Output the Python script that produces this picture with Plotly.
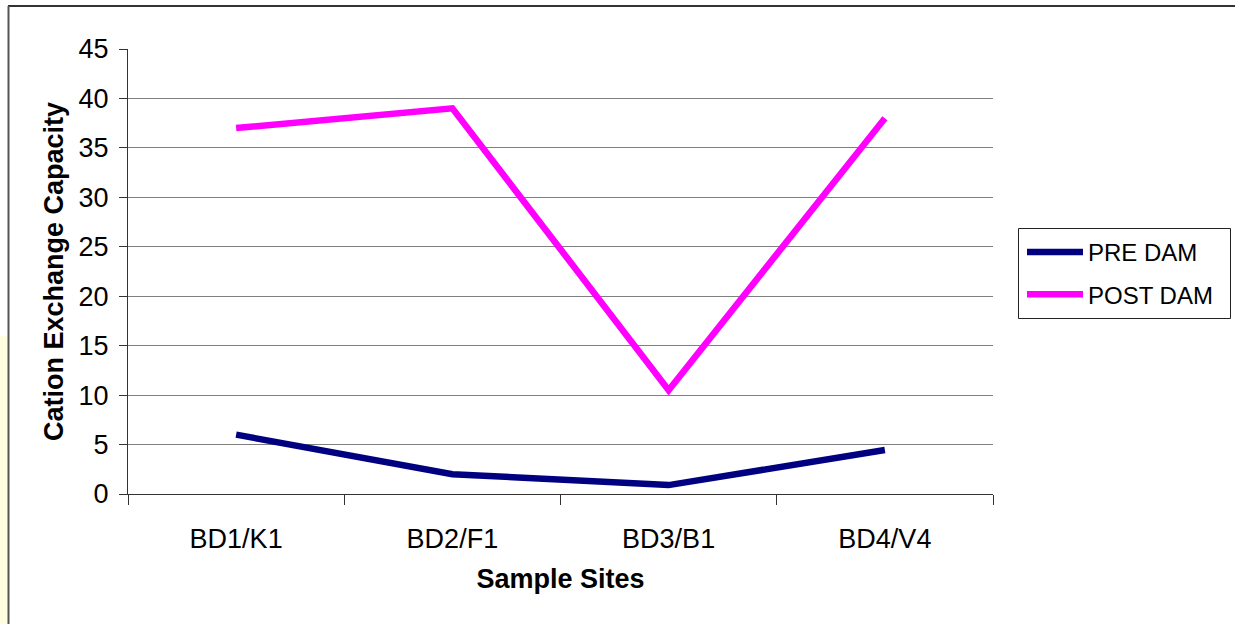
import plotly.graph_objects as go

sites = ["BD1/K1", "BD2/F1", "BD3/B1", "BD4/V4"]
pre_dam = [6.0, 2.0, 0.9, 4.45]
post_dam = [37.0, 39.0, 10.5, 38.0]

FONT = "Liberation Sans, Arial, sans-serif"

L, R, T, B = 128, 993, 49, 494
W, H = 1235, 624

def px(x):
    return (x - L) / (R - L)

def py(y):
    return (B - y) / (B - T)

fig = go.Figure()
fig.add_trace(go.Scatter(x=sites, y=pre_dam, mode="lines", name="PRE DAM", legendgroup="a",
                         line=dict(color="#000080", width=6.5)))
fig.add_trace(go.Scatter(x=sites, y=post_dam, mode="lines", name="POST DAM", legendgroup="b",
                         line=dict(color="#FF00FF", width=6.5)))

fig.update_layout(
    width=W, height=H,
    margin=dict(l=L, r=W - R, t=T, b=H - B),
    paper_bgcolor="white", plot_bgcolor="white",
    font=dict(family=FONT, size=27, color="black"),
    showlegend=True,
    legend=dict(x=px(1022), y=py(230), xanchor="left", yanchor="top",
                borderwidth=0, bgcolor="rgba(0,0,0,0)", itemwidth=56,
                font=dict(size=24, family=FONT), tracegroupgap=8),
    xaxis=dict(
        type="category", tickson="boundaries", ticks="outside", ticklen=10,
        tickcolor="#333333", showline=True, linecolor="#333333", linewidth=1,
        showgrid=False, zeroline=False, ticklabelstandoff=21,
        title=dict(text="<b>Sample Sites</b>", font=dict(size=27), standoff=15),
        range=[-0.5, 3.5],
    ),
    yaxis=dict(
        range=[0, 45], dtick=5, tick0=0, ticks="outside", ticklen=8,
        tickcolor="#333333", showline=True, linecolor="#333333", linewidth=1,
        showgrid=True, gridcolor="#7f7f7f", gridwidth=1, zeroline=False,
        ticklabelstandoff=5,
        title=dict(text="<b>Cation Exchange Capacity</b>", font=dict(size=27), standoff=7),
    ),
    shapes=[
        dict(type="rect", xref="paper", yref="paper", x0=px(0), x1=px(8), y0=py(336), y1=py(624),
             fillcolor="#FFFDE0", line=dict(width=0), layer="below"),
        dict(type="line", xref="paper", yref="paper", x0=px(8), x1=px(1235), y0=py(6), y1=py(6),
             line=dict(color="#333333", width=2)),
        dict(type="line", xref="paper", yref="paper", x0=px(8.5), x1=px(8.5), y0=py(6), y1=py(624),
             line=dict(color="#555555", width=2)),
        dict(type="rect", xref="paper", yref="paper", x0=px(1018.5), x1=px(1230.5), y0=py(228.5), y1=py(318.5),
             fillcolor="rgba(0,0,0,0)", line=dict(color="#222222", width=1)),
    ],
)

fig.write_html("out.html", config={"displayModeBar": False},
               post_script="document.body.style.margin='0';document.body.style.overflow='hidden';")
